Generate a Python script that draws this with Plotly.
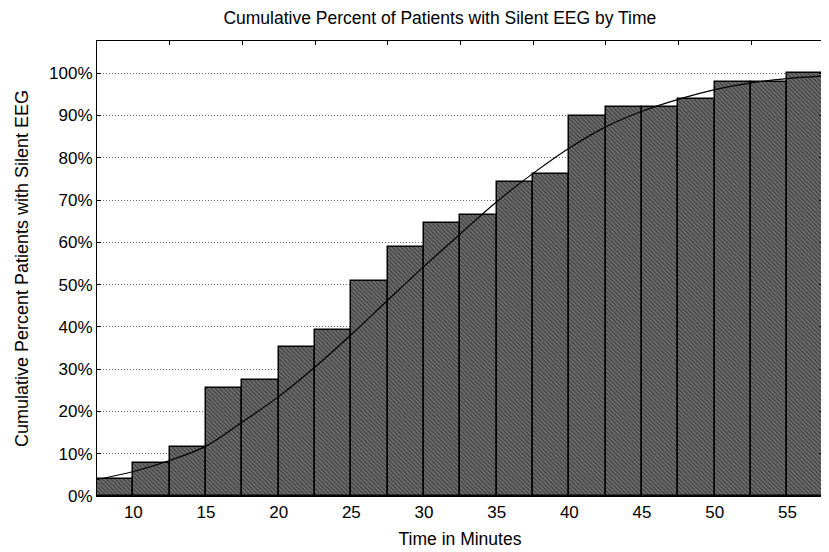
import plotly.graph_objects as go

# Bin centers (minutes), each bin is 2.5 minutes wide
bin_centers = [8.75, 11.25, 13.75, 16.25, 18.75, 21.25, 23.75, 26.25, 28.75, 31.25,
               33.75, 36.25, 38.75, 41.25, 43.75, 46.25, 48.75, 51.25, 53.75, 56.25]
cum_percent = [4.0, 7.8, 11.7, 25.5, 27.4, 35.3, 39.2, 50.8, 58.9, 64.5,
               66.4, 74.2, 76.1, 89.9, 92.0, 92.0, 94.0, 97.8, 97.8, 100.0]

# Fitted curve
curve_x = [7.5, 10, 12.5, 15, 17.5, 20, 22.5, 25, 27.5, 30, 32.5, 35, 37.5,
           40, 42.5, 45, 47.5, 50, 52.5, 55, 57.45]
curve_y = [3.9, 5.8, 8.4, 11.8, 17.5, 23.5, 30.5, 38.2, 46.3, 54.3, 62.0, 69.6, 76.3,
           82.3, 87.3, 91.0, 93.8, 96.1, 97.7, 98.7, 99.3]

x_ticks = [10, 15, 20, 25, 30, 35, 40, 45, 50, 55]
top_ticks = [12.5, 17.5, 22.5, 27.5, 32.5, 37.5, 42.5, 47.5, 52.5, 57.5]
y_ticks = [0, 10, 20, 30, 40, 50, 60, 70, 80, 90, 100]
y_labels = ["0%", "10%", "20%", "30%", "40%", "50%", "60%", "70%", "80%", "90%", "100%"]

X_RANGE = [7.5, 57.45]
Y_RANGE = [0, 107.6]
FONT = "Liberation Sans, Arial, sans-serif"

fig = go.Figure()
fig.add_trace(go.Bar(
    x=bin_centers, y=cum_percent, width=2.5,
    marker=dict(color="#5a5a5a",
                line=dict(color="black", width=1.5),
                pattern=dict(shape="\\", fgcolor="#111111", bgcolor="#707070",
                             size=3, solidity=0.45)),
    showlegend=False, hoverinfo="skip",
))
fig.add_trace(go.Scatter(
    x=curve_x, y=curve_y, mode="lines",
    line=dict(color="black", width=1.2, shape="spline", smoothing=1.0),
    showlegend=False, hoverinfo="skip",
))
# invisible trace to anchor the top tick axis
fig.add_trace(go.Scatter(x=[X_RANGE[0]], y=[0], xaxis="x2", yaxis="y",
                         mode="markers", marker=dict(opacity=0),
                         showlegend=False, hoverinfo="skip"))

fig.update_layout(
    width=821, height=544,
    margin=dict(l=89, r=6, t=33, b=56),
    paper_bgcolor="white", plot_bgcolor="white",
    font=dict(family=FONT, color="black", size=17),
    bargap=0,
    title=dict(text="Cumulative Percent of Patients with Silent EEG by Time",
               x=0.526, xref="container", xanchor="center",
               y=0.981, yref="container", yanchor="middle",
               font=dict(size=17.5, family=FONT, color="black")),
    xaxis=dict(range=X_RANGE, tickvals=x_ticks, ticks="", showgrid=False,
               zeroline=False, showline=True, linecolor="black", linewidth=1.2,
               mirror=True, tickfont=dict(size=17), automargin=False,
               title=dict(text="Time in Minutes", font=dict(size=17.5), standoff=12)),
    xaxis2=dict(range=X_RANGE, overlaying="x", side="top", tickvals=top_ticks,
                ticks="inside", ticklen=4, tickcolor="black", showticklabels=False,
                showgrid=False, zeroline=False, showline=False, automargin=False),
    yaxis=dict(range=Y_RANGE, tickvals=y_ticks, ticktext=y_labels,
               showgrid=True, gridcolor="#666666", griddash="1px,2px", gridwidth=1,
               zeroline=False, showline=True, linecolor="black", linewidth=1.2,
               mirror="ticks", ticks="inside", ticklen=4, tickcolor="black",
               tickfont=dict(size=17), automargin=False,
               title=dict(text="Cumulative Percent Patients with Silent EEG",
                          font=dict(size=18), standoff=15)),
)

fig.write_html("out.html")
